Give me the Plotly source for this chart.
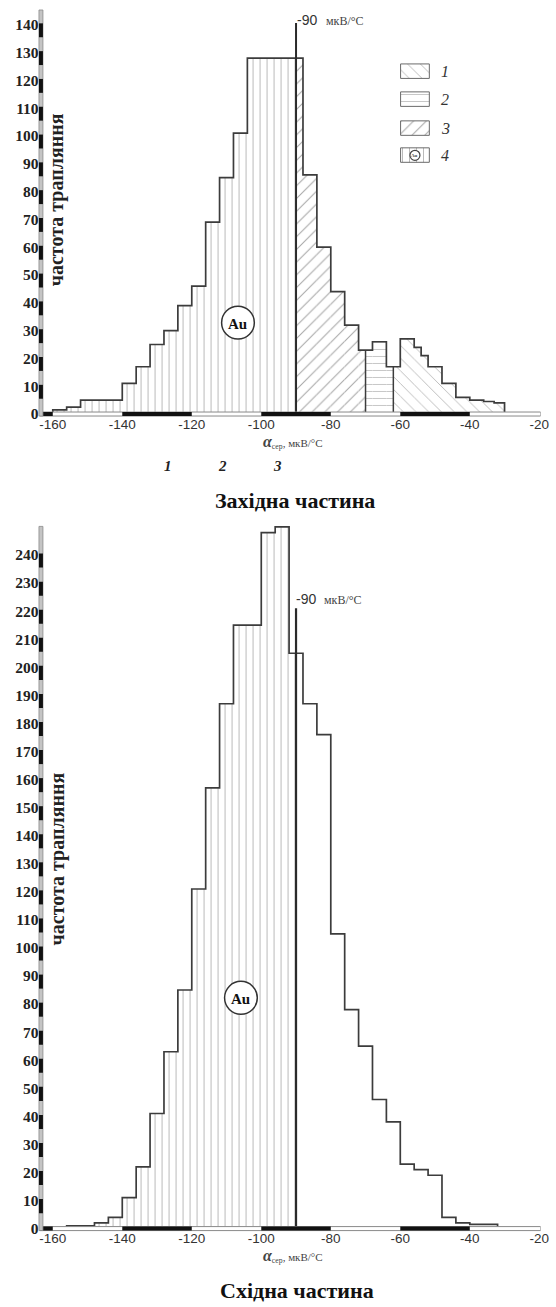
import plotly.graph_objects as go

W, H = 556, 1307

# ---- data -------------------------------------------------------------
# Західна частина: bin edges (мкВ/°С) and frequencies
west_edges = [-160, -156, -152, -148, -144, -140, -136, -132, -128, -124,
              -120, -116, -112, -108, -104, -100, -96, -92, -88, -84,
              -80, -76, -72, -68, -64, -60, -56, -54, -52, -48,
              -44, -40, -36, -33, -30]
west_counts = [1.5, 2.5, 5, 5, 5, 11, 17, 25, 30, 39,
               46, 69, 85, 101, 128, 128, 128, 128, 86, 60,
               44, 32, 23, 26, 17, 27, 24, 21, 17, 11,
               6, 5, 4.5, 4]

# Східна частина: bin edges and frequencies
east_edges = [-156, -152, -148, -144, -140, -136, -132, -128, -124, -120,
              -116, -112, -108, -104, -100, -96, -92, -88, -84, -80,
              -76, -72, -68, -64, -60, -56, -52, -48, -44, -40,
              -36, -32]
east_counts = [1, 1, 2, 4, 11, 22, 41, 63, 85, 121,
               157, 187, 215, 215, 248, 250, 205, 187, 176, 105,
               78, 65, 46, 38, 23, 21, 19, 4, 2, 1.5,
               1.5]

threshold = -90
# class zones (lower, upper, class key)
west_zones = [(-160, -90, "au"), (-90, -70, "c3"), (-70, -62, "c2"), (-62, -30, "c1")]
east_zones = [(-156, -90, "au")]

x_ticks = [-160, -140, -120, -100, -80, -60, -40, -20]
x_tick_text = ["-160", "-140", "-120", "-100", "-80", "-60", "-40", "-20"]
west_y_ticks = list(range(0, 141, 10))
east_y_ticks = list(range(0, 241, 10))
legend_labels = ["1", "2", "3", "4"]
legend_keys = ["c1", "c2", "c3", "au"]
class_labels = ["1", "2", "3"]

# ---- styles -----------------------------------------------------------
PATTERNS = {
    "au": dict(shape="|", size=7, solidity=0.15, fgcolor="#767676", bgcolor="white"),
    "c1": dict(shape="\\", size=9, solidity=0.10, fgcolor="#6e6e6e", bgcolor="white"),
    "c2": dict(shape="-", size=7, solidity=0.14, fgcolor="#8c8c8c", bgcolor="white"),
    "c3": dict(shape="/", size=9, solidity=0.12, fgcolor="#505050", bgcolor="white"),
}
EDGE = "#3c3c3c"
SERIF = "Liberation Serif"
SANS = "Liberation Sans"

# layout grid (page pixels) with a slight stretch factor
SX, SY = 1.006, 1.005
X_RANGE = [-163.8, -19.6]


def py(y):
    return 1 - y * SY / H


def px(x):
    return x * SX / W


X_DOM = [px(39.9), px(545.3)]


def zone_bars(edges, counts, lo, hi):
    xs, ws, ys = [], [], []
    for a, b, c in zip(edges[:-1], edges[1:], counts):
        a2, b2 = max(a, lo), min(b, hi)
        if b2 > a2:
            xs.append((a2 + b2) / 2)
            ws.append(b2 - a2)
            ys.append(c)
    return xs, ws, ys


def outline(edges, counts):
    xs, ys = [edges[0]], [0]
    for a, b, c in zip(edges[:-1], edges[1:], counts):
        xs += [a, b]
        ys += [c, c]
    xs.append(edges[-1])
    ys.append(0)
    return xs, ys


def height_at(edges, counts, x):
    for a, b, c in zip(edges[:-1], edges[1:], counts):
        if a <= x < b:
            return c
    return 0


fig = go.Figure()


def add_hist(edges, counts, zones, xa, ya):
    for lo, hi, key in zones:
        xs, ws, ys = zone_bars(edges, counts, lo, hi)
        fig.add_trace(go.Bar(x=xs, y=ys, width=ws, xaxis=xa, yaxis=ya,
                             marker=dict(color="white", line=dict(width=0),
                                         pattern=PATTERNS[key]),
                             showlegend=False, hoverinfo="skip"))
    ox, oy = outline(edges, counts)
    fig.add_trace(go.Scatter(x=ox, y=oy, mode="lines", xaxis=xa, yaxis=ya,
                             line=dict(color=EDGE, width=1.7),
                             showlegend=False, hoverinfo="skip"))


add_hist(west_edges, west_counts, west_zones, "x", "y")
add_hist(east_edges, east_counts, east_zones, "x2", "y2")

# zone separators inside the western histogram
for b in [-70, -62]:
    h = height_at(west_edges, west_counts, b)
    fig.add_trace(go.Scatter(x=[b, b], y=[0, h], mode="lines", xaxis="x", yaxis="y",
                             line=dict(color=EDGE, width=1.5),
                             showlegend=False, hoverinfo="skip"))

shapes = []
annotations = []

# threshold lines
shapes.append(dict(type="line", xref="x", yref="y", x0=threshold, x1=threshold,
                   y0=0, y1=140.6, line=dict(color="#2a2a2a", width=2), layer="above"))
shapes.append(dict(type="line", xref="x2", yref="y2", x0=threshold, x1=threshold,
                   y0=0, y1=221, line=dict(color="#2a2a2a", width=2.2), layer="above"))


def scale_axes(xref, yref, y_axis_px, y_top_px, yticks):
    # x scale bar: alternating black / open 20-unit blocks
    y0, y1 = py(y_axis_px + 2), py(y_axis_px - 2)
    shapes.append(dict(type="rect", xref=xref, yref="paper", x0=X_RANGE[0], x1=X_RANGE[1],
                       y0=y0, y1=y1, fillcolor="white", line=dict(color="#8a8a8a", width=1),
                       layer="above"))
    for a, b in [(X_RANGE[0], -160), (-140, -120), (-100, -80), (-60, -40)]:
        shapes.append(dict(type="rect", xref=xref, yref="paper", x0=a, x1=b,
                           y0=y0, y1=y1, fillcolor="#111", line=dict(width=0), layer="above"))
    # y scale bar
    shapes.append(dict(type="rect", xref="paper", yref="paper", x0=px(39.3), x1=px(43.3),
                       y0=py(y_axis_px + 2), y1=py(y_top_px), fillcolor="#c4c4c4",
                       line=dict(color="#8a8a8a", width=0.8), layer="above"))
    for t in yticks[1:]:
        shapes.append(dict(type="rect", xref="paper", yref=yref, x0=px(39.3), x1=px(43.3),
                           y0=t - 4.5, y1=t + 0.5, fillcolor="#111", line=dict(width=0),
                           layer="above"))


scale_axes("x", "y", 414.5, 10, west_y_ticks)
scale_axes("x2", "y2", 1230, 527, east_y_ticks)


def ann(x, y, text, size, family=SERIF, color="#222", weight="normal", style="normal",
        xanchor="center", textangle=0):
    annotations.append(dict(x=px(x), y=py(y), xref="paper", yref="paper", text=text,
                            showarrow=False, xanchor=xanchor, yanchor="middle",
                            textangle=textangle,
                            font=dict(family=family, size=size, color=color,
                                      weight=weight, style=style)))


# Au circles
for cx, cy in [(240, 323), (243, 999)]:
    r = 16.5
    shapes.append(dict(type="circle", xref="paper", yref="paper",
                       x0=px(cx - r), x1=px(cx + r), y0=py(cy + r), y1=py(cy - r),
                       fillcolor="white", line=dict(color="#333", width=1.5), layer="above"))
    ann(cx, cy + 1, "Au", 15, weight="bold", color="#111")

# threshold captions
ann(298, 20, "-90", 14, family=SANS, color="#333", xanchor="left")
ann(327, 21, "мкВ/°С", 12, color="#444", xanchor="left")
ann(297, 600, "-90", 14, family=SANS, color="#333", xanchor="left")
ann(325, 601, "мкВ/°С", 12, color="#444", xanchor="left")

# axis titles
xt = ('<b><i><span style="font-size:16px">α</span></i></b>'
      '<sub>сер</sub>, мкВ/°С')
ann(296, 443, xt, 11, color="#444")
ann(296, 1257, xt, 11, color="#444")
ann(57, 200, "частота трапляння", 20, weight="bold", textangle=-90)
ann(57, 860, "частота трапляння", 20, weight="bold", textangle=-90)

# class numbers under the western histogram
for lab, xx in zip(class_labels, [169, 224, 280]):
    ann(xx, 467, lab, 15, weight="bold", style="italic")

# panel titles
ann(298, 501, "Західна частина", 22, weight="bold", color="#111")
ann(300, 1292, "Східна частина", 22, weight="bold", color="#111")

# legend boxes drawn on a pixel overlay axis
box_tops = [64, 92, 121, 148]
for lab, key, top in zip(legend_labels, legend_keys, box_tops):
    bx0, bx1, by0, by1 = 404, 433, top, top + 14.5
    fig.add_trace(go.Scatter(x=[bx0, bx1, bx1, bx0, bx0], y=[by0, by0, by1, by1, by0],
                             mode="lines", fill="toself", xaxis="x3", yaxis="y3",
                             fillcolor="white", fillpattern=PATTERNS[key],
                             line=dict(color="#6a6a6a", width=1),
                             showlegend=False, hoverinfo="skip"))
    ann(449, top + 7.5, lab, 16, style="italic", color="#333")
fig.add_trace(go.Scatter(x=[418.5], y=[155.5], mode="markers", xaxis="x3", yaxis="y3",
                         marker=dict(size=10, color="white", line=dict(color="#444", width=1.2)),
                         showlegend=False, hoverinfo="skip"))
ann(418.5, 155.7, "Au", 5, weight="bold", color="#444")

common_x = dict(range=X_RANGE, domain=X_DOM, tickvals=x_ticks, ticktext=x_tick_text,
                showgrid=False, zeroline=False, showline=False, ticks="",
                ticklabeloverflow="allow",
                tickfont=dict(family=SANS, size=13.5, color="#333"), fixedrange=True)
common_y = dict(showgrid=False, zeroline=False, showline=False, ticks="",
                tickfont=dict(family=SERIF, size=15.5, color="#222", weight="bold"),
                fixedrange=True)

fig.update_layout(
    width=W, height=H, autosize=False,
    margin=dict(l=0, r=0, t=0, b=0, pad=0),
    paper_bgcolor="white", plot_bgcolor="rgba(0,0,0,0)",
    barmode="overlay", showlegend=False,
    xaxis=dict(**common_x, anchor="y"),
    yaxis=dict(**common_y, anchor="x", range=[0, 145.3], tickvals=west_y_ticks,
               domain=[py(414.5), py(10)]),
    xaxis2=dict(**common_x, anchor="y2"),
    yaxis2=dict(**common_y, anchor="x2", range=[0, 250.9], tickvals=east_y_ticks,
                domain=[py(1230), py(525)]),
    xaxis3=dict(domain=[0, 1], range=[0, W / SX], visible=False, anchor="y3", fixedrange=True),
    yaxis3=dict(domain=[0, 1], range=[H / SY, 0], visible=False, anchor="x3", fixedrange=True),
    shapes=shapes,
    annotations=annotations,
)

fig.write_html(
    "out.html",
    config={"displayModeBar": False, "responsive": False},
    post_script="document.body.style.margin='0';document.body.style.overflow='hidden';",
)
